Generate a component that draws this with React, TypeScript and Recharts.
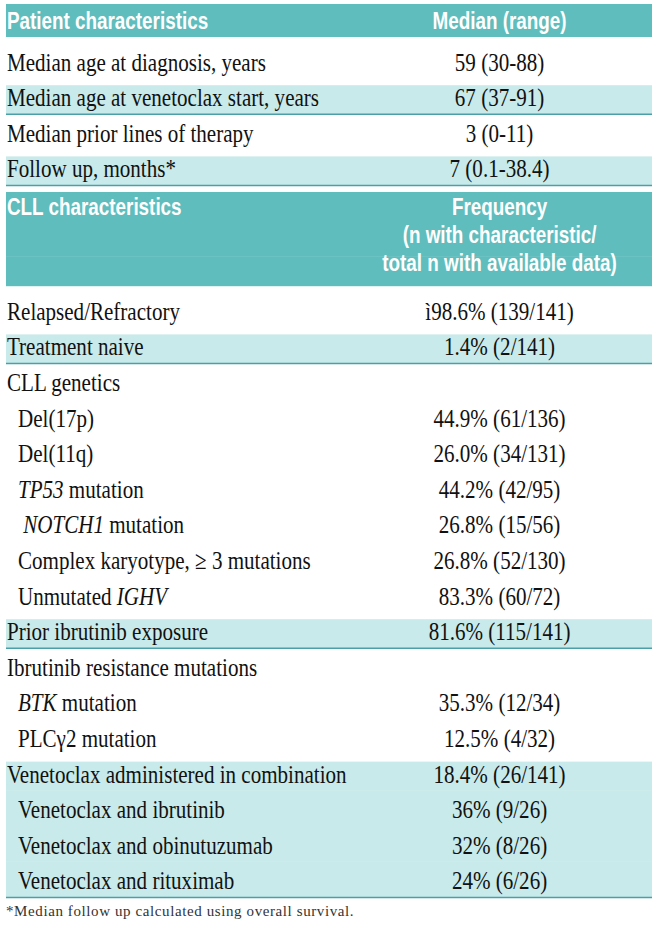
import React from "react";
import { BarChart, Bar, XAxis, YAxis } from "recharts";

// one entry per printed line of the table
const ROW_LABELS = [
  "Patient characteristics",
  "Median age at diagnosis, years",
  "Median age at venetoclax start, years",
  "Median prior lines of therapy",
  "Follow up, months*",
  "CLL characteristics",
  "",
  "",
  "Relapsed/Refractory",
  "Treatment naive",
  "CLL genetics",
  "Del(17p)",
  "Del(11q)",
  "_TP53_ mutation",
  "\u00a0_NOTCH1_ mutation",
  "Complex karyotype, \u2265 3 mutations",
  "Unmutated _IGHV_",
  "Prior ibrutinib exposure",
  "Ibrutinib resistance mutations",
  "_BTK_ mutation",
  "PLC\u03b32 mutation",
  "Venetoclax administered in combination",
  "Venetoclax and ibrutinib",
  "Venetoclax and obinutuzumab",
  "Venetoclax and rituximab",
];

const ROW_VALUES = [
  "Median (range)",
  "59 (30-88)",
  "67 (37-91)",
  "3 (0-11)",
  "7 (0.1-38.4)",
  "Frequency",
  "(n with characteristic/",
  "total n with available data)",
  "\u00ec98.6% (139/141)",
  "1.4% (2/141)",
  "",
  "44.9% (61/136)",
  "26.0% (34/131)",
  "44.2% (42/95)",
  "26.8% (15/56)",
  "26.8% (52/130)",
  "83.3% (60/72)",
  "81.6% (115/141)",
  "",
  "35.3% (12/34)",
  "12.5% (4/32)",
  "18.4% (26/141)",
  "36% (9/26)",
  "32% (8/26)",
  "24% (6/26)",
];

const ROW_KINDS = [
  "head", "plain", "band", "plain", "band",
  "head", "head", "head",
  "plain", "band",
  "plain", "plain", "plain", "plain", "plain", "plain", "plain",
  "band",
  "plain", "plain", "plain",
  "band", "band", "band", "band",
];

const ROW_LEVELS = [
  0, 0, 0, 0, 0,
  0, 0, 0,
  0, 0,
  0, 1, 1, 1, 1, 1, 1,
  0,
  0, 1, 1,
  0, 1, 1, 1,
];

const FOOTNOTE = "*Median follow up calculated using overall survival.";

const HEAD_FILL = "#5fbdbd";
const BAND_FILL = "#c8eaea";
const RULE = "#4a9fa8";

const rows = ROW_LABELS.map((label, idx) => ({
  id: `r${idx}`,
  idx,
  label,
  value: ROW_VALUES[idx],
  kind: ROW_KINDS[idx],
  level: ROW_LEVELS[idx],
  span: 1,
}));

function RichText({ x, y, text, anchor, fill }: any) {
  const parts = text.split("_");
  return (
    <text
      transform={`translate(${x},${y}) scale(0.81,1)`}
      textAnchor={anchor}
      fontFamily="'Liberation Serif', 'Times New Roman', serif"
      fontSize={26}
      fill={fill}
    >
      {parts.map((p: string, k: number) => (
        <tspan key={k} fontStyle={k % 2 === 1 ? "italic" : "normal"}>
          {p}
        </tspan>
      ))}
    </text>
  );
}

function HeadText({ x, y, text, anchor }: any) {
  return (
    <text
      transform={`translate(${x},${y}) scale(0.82,1)`}
      textAnchor={anchor}
      fontFamily="'Liberation Sans', Arial, sans-serif"
      fontWeight="bold"
      fontSize={23}
      fill="#fff"
    >
      {text}
    </text>
  );
}

const renderRow = (props: any) => {
  const { x, y, width, height, payload } = props;
  const i = payload.idx;
  const kind = payload.kind;
  const prev = rows[i - 1]?.kind;
  const next = rows[i + 1]?.kind;
  const mid = x + width * 0.764;
  const cy = y + height / 2;

  if (kind === "head") {
    let start = i;
    while (start > 0 && rows[start - 1].kind === "head") start--;
    let end = i;
    while (end < rows.length - 1 && rows[end + 1].kind === "head") end++;
    const n = end - start + 1;
    const pos = i - start;
    const groupCenter = y - pos * height + (n * height) / 2;
    const base = groupCenter + 4 + (pos - (n - 1) / 2) * 28.5;
    const top = prev !== "head" ? (i === 0 ? y - 3 : y + 7) : y;
    const bottom = next !== "head" ? y + height - 6 : y + height;
    return (
      <g>
        <rect x={x} y={top} width={width} height={bottom - top} fill={HEAD_FILL} />
        {payload.label && <HeadText x={x + 1} y={groupCenter + 4 - ((n - 1) / 2) * 28.5} text={payload.label} anchor="start" />}
        <HeadText x={mid} y={base} text={payload.value} anchor="middle" />
      </g>
    );
  }

  const base = cy + 10;
  const indent = payload.level * 11;
  return (
    <g>
      {kind === "band" && (
        <rect
          x={x}
          y={prev !== "band" ? y + 7 : y}
          width={width}
          height={prev !== "band" ? height - 7 : height}
          fill={BAND_FILL}
        />
      )}
      {kind === "band" && next !== "band" && (
        <line x1={x} x2={x + width} y1={y + height} y2={y + height} stroke={RULE} strokeWidth={1.5} />
      )}
      <RichText x={x + 1 + indent} y={base} text={payload.label} anchor="start" fill="#111" />
      {payload.value && <RichText x={mid} y={base} text={payload.value} anchor="middle" fill="#111" />}
    </g>
  );
};

export default function App() {
  return (
    <div style={{ position: "absolute", left: 0, top: 0, width: 658, height: 933, background: "#fff" }}>
      <BarChart
        width={658}
        height={933}
        data={rows}
        layout="vertical"
        margin={{ top: 7, right: 6, bottom: 36, left: 6 }}
        barCategoryGap={0}
      >
        <XAxis type="number" domain={[0, 1]} hide />
        <YAxis type="category" dataKey="id" hide />
        <Bar dataKey="span" isAnimationActive={false} shape={renderRow} />
      </BarChart>
      <div
        style={{
          position: "absolute",
          left: 6,
          top: 903,
          fontFamily: "'Liberation Serif', serif",
          fontSize: 15,
          letterSpacing: 0.6,
          color: "#333",
          whiteSpace: "nowrap",
        }}
      >
        {FOOTNOTE}
      </div>
    </div>
  );
}
